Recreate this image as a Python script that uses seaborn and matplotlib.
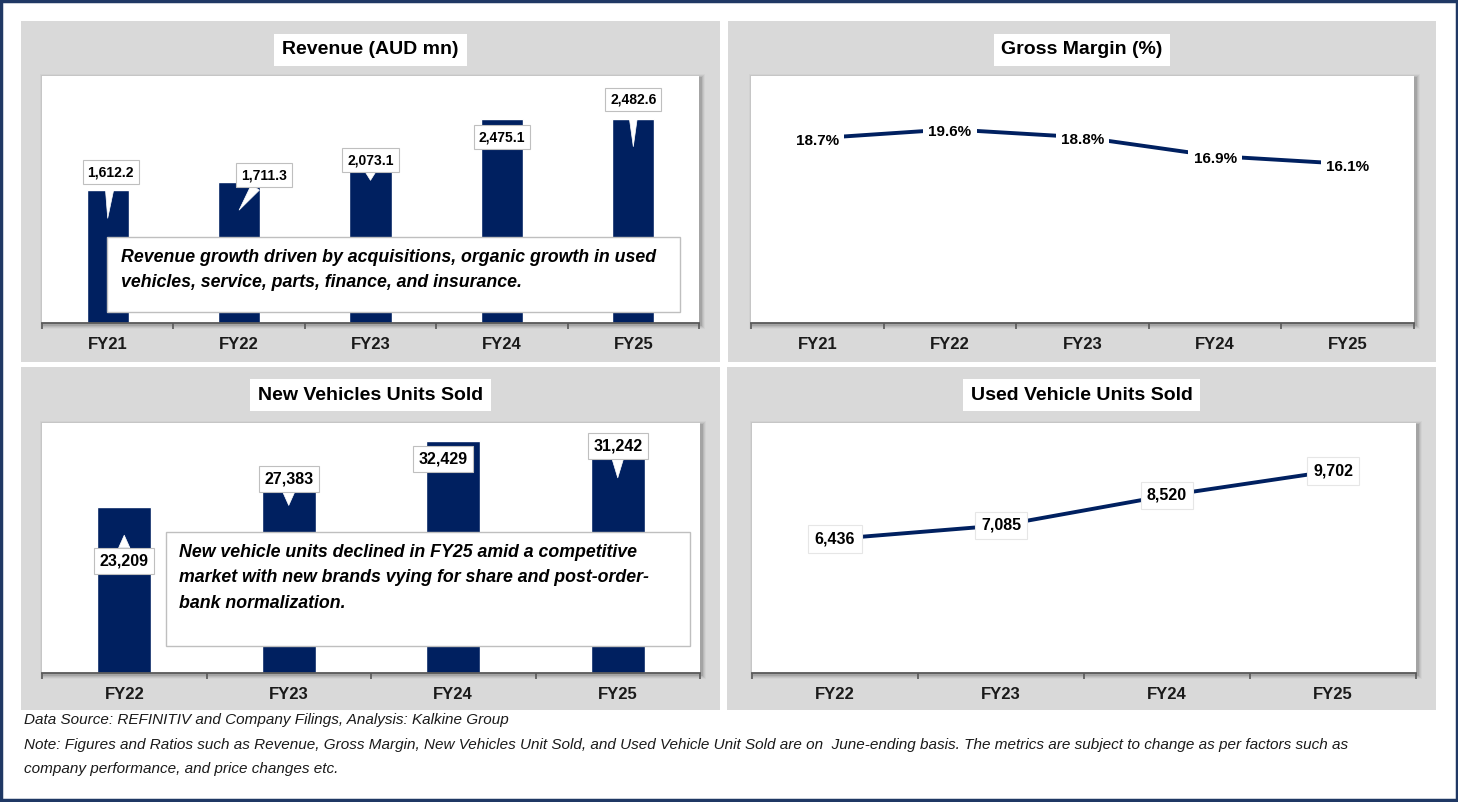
import numpy as np
import matplotlib
matplotlib.use('Agg')
import matplotlib.pyplot as plt
import matplotlib.patches as mpatches
from matplotlib.transforms import offset_copy
import seaborn as sns

# Chart data
rev_years = ['FY21', 'FY22', 'FY23', 'FY24', 'FY25']
revenue = [1612.2, 1711.3, 2073.1, 2475.1, 2482.6]
gm_years = ['FY21', 'FY22', 'FY23', 'FY24', 'FY25']
gross_margin = [18.7, 19.6, 18.8, 16.9, 16.1]
unit_years = ['FY22', 'FY23', 'FY24', 'FY25']
new_units = [23209, 27383, 32429, 31242]
used_units = [6436, 7085, 8520, 9702]

titles = ['Revenue (AUD mn)', 'Gross Margin (%)', 'New Vehicles Units Sold', 'Used Vehicle Units Sold']
rev_note = ('Revenue growth driven by acquisitions, organic growth in used\n'
            'vehicles, service, parts, finance, and insurance.')
new_note = ('New vehicle units declined in FY25 amid a competitive\n'
            'market with new brands vying for share and post-order-\n'
            'bank normalization.')
footer = ['Data Source: REFINITIV and Company Filings, Analysis: Kalkine Group',
          'Note: Figures and Ratios such as Revenue, Gross Margin, New Vehicles Unit Sold, and Used Vehicle Unit Sold '
          'are on  June-ending basis. The metrics are subject to change as per factors such as',
          'company performance, and price changes etc.']

# Styling
W, H = 1458, 802
NAVY = '#002060'
PANEL = '#d9d9d9'
BORDER = '#1f3864'
PT = 0.72  # points per pixel at dpi 100

sns.set_theme(style='white')
plt.rcParams['font.family'] = ['Liberation Sans', 'DejaVu Sans']
plt.rcParams['text.color'] = '#1a1a1a'

fig = plt.figure(figsize=(W / 100, H / 100), dpi=100)
fig.patch.set_facecolor('white')


def rect(x0, y0, x1, y1, **kw):
    r = mpatches.Rectangle((x0 / W, 1 - y1 / H), (x1 - x0) / W, (y1 - y0) / H,
                           transform=fig.transFigure, **kw)
    fig.add_artist(r)
    return r


def axes_px(x0, y0, x1, y1):
    return fig.add_axes([x0 / W, 1 - y1 / H, (x1 - x0) / W, (y1 - y0) / H])


panels = [(21, 21, 720, 362), (728, 21, 1436, 362), (21, 367, 720, 710), (727, 367, 1436, 710)]
areas = [(42, 76, 699, 323), (751, 76, 1414, 323), (42, 423, 700, 673), (752, 423, 1416, 673)]
title_y = [50, 50, 395, 395]

# outer frame
rect(1, 1, 1457, 800, fill=False, ec=BORDER, lw=2.5, zorder=10)

axes = []
for p, a, t, ty in zip(panels, areas, titles, title_y):
    rect(*p, fc=PANEL, ec='none', zorder=-2)
    # soft shadow around plot area
    for k, al in enumerate([0.10, 0.07, 0.05, 0.03]):
        rect(a[0] - k + 1, a[1] - k + 1, a[2] + k + 3, a[3] + k + 3, fc='black', ec='none',
             alpha=al, zorder=-1)
    ax = axes_px(*a)
    axes.append(ax)
    fig.text((p[0] + p[2]) / 2 / W, 1 - ty / H, t, ha='center', va='center', fontsize=14,
             fontweight='bold', color='black',
             bbox=dict(boxstyle='square,pad=0.4', fc='white', ec='none'))


def style_axes(ax, labels, ymax):
    n = len(labels)
    ax.set_facecolor('white')
    ax.set_xlim(-0.5, n - 0.5)
    ax.set_ylim(0, ymax)
    for s in ['top', 'left', 'right']:
        ax.spines[s].set_visible(False)
    ax.spines['bottom'].set_color('#595959')
    ax.spines['bottom'].set_linewidth(1.3)
    ax.set_yticks([])
    ax.set_xticks(range(n))
    ax.set_xticklabels(labels, fontweight='bold', fontsize=12, color='#1a1a1a')
    ax.set_xticks(np.arange(-0.5, n), minor=True)
    ax.tick_params(axis='x', which='major', length=0, pad=10)
    ax.tick_params(axis='x', which='minor', length=4, width=1.2, color='#595959',
                   direction='out', bottom=True)
    ax.set_xlabel('')
    ax.set_ylabel('')


def callout_labels(ax, vals, texts, shifts, arrows, size):
    tip = offset_copy(ax.transData, fig=fig, x=0, y=-28 * PT, units='points')
    for i, (v, s, sh, arr) in enumerate(zip(vals, texts, shifts, arrows)):
        props = None
        if arr:
            props = dict(arrowstyle='wedge,tail_width=0.7,shrink_factor=0.5', fc='white',
                         ec='white', lw=0.5, shrinkA=0, shrinkB=0)
        ax.annotate(s, (i, v), xycoords=tip, xytext=(sh[0] * PT, sh[1] * PT),
                    textcoords='offset points', ha='center', va='center', fontsize=size,
                    fontweight='bold', color='black', arrowprops=props, zorder=5,
                    bbox=dict(boxstyle='square,pad=0.35', fc='white', ec='#bfbfbf', lw=0.8))


# Revenue
ax = axes[0]
sns.barplot(x=rev_years, y=revenue, color=NAVY, saturation=1, width=0.32, ax=ax)
style_axes(ax, rev_years, 3000)
callout_labels(ax, revenue, [f'{v:,.1f}' for v in revenue],
               [(3, 46), (25, 35), (0, 20), (0, 10), (0, 47)],
               [True, True, True, False, True], 10)

# Gross margin
ax = axes[1]
sns.lineplot(x=gm_years, y=gross_margin, color=NAVY, linewidth=2.8, ax=ax)
style_axes(ax, gm_years, 25)
for i, v in enumerate(gross_margin):
    ax.annotate(f'{v}%', (i, v), xytext=(0, -3 * PT), textcoords='offset points',
                ha='center', va='center', fontsize=11, fontweight='bold', color='black',
                bbox=dict(boxstyle='square,pad=0.35', fc='white', ec='none'))

# New vehicles
ax = axes[2]
sns.barplot(x=unit_years, y=new_units, color=NAVY, saturation=1, width=0.33, ax=ax)
style_axes(ax, unit_years, 35000)
callout_labels(ax, new_units, [f'{v:,}' for v in new_units],
               [(0, -26), (0, 26), (-10, 10), (0, 32)],
               [True, True, False, True], 11.5)

# Used vehicles
ax = axes[3]
sns.lineplot(x=unit_years, y=used_units, color=NAVY, linewidth=2.8, ax=ax)
style_axes(ax, unit_years, 12000)
for i, v in enumerate(used_units):
    ax.annotate(f'{v:,}', (i, v), ha='center', va='center', fontsize=11.5,
                fontweight='bold', color='black',
                bbox=dict(boxstyle='square,pad=0.4', fc='white', ec='#e6e6e6', lw=0.8))

# Note boxes
rect(107, 237, 680, 312, fc='white', ec='#bfbfbf', lw=1, zorder=5)
fig.text(121 / W, 1 - 270 / H, rev_note, ha='left', va='center', fontsize=12.8,
         fontweight='bold', style='italic', color='black', linespacing=1.65, zorder=6)
rect(166, 532, 690, 646, fc='white', ec='#bfbfbf', lw=1, zorder=5)
fig.text(179 / W, 1 - 578 / H, new_note, ha='left', va='center', fontsize=12.8,
         fontweight='bold', style='italic', color='black', linespacing=1.65, zorder=6)

# Footer
for y, line in zip([720, 745, 769], footer):
    fig.text(24 / W, 1 - y / H, line, ha='left', va='center', fontsize=11,
             style='italic', color='#1a1a1a')

fig.savefig('out.png', dpi=100, facecolor='white')
